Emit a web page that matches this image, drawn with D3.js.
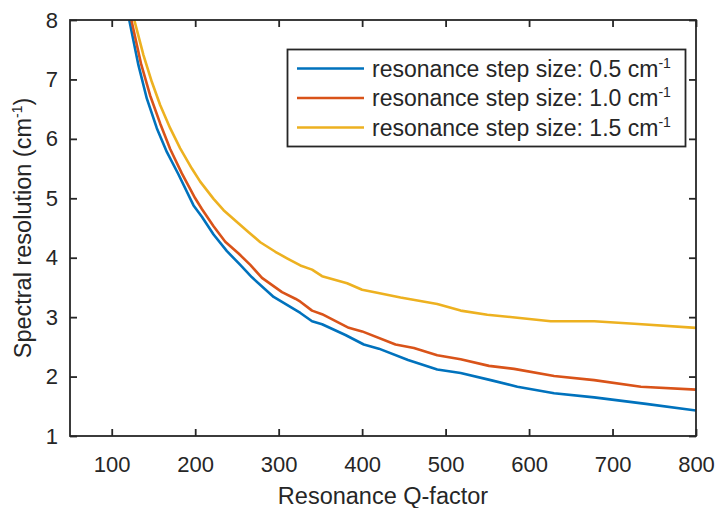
<!DOCTYPE html>
<html>
<head>
<meta charset="utf-8">
<script src="https://cdn.jsdelivr.net/npm/d3@7"></script>
<style>
  html, body { margin: 0; padding: 0; background: #fff; }
  svg { display: block; font-family: "Liberation Sans", Arial, Helvetica, sans-serif; }
</style>
</head>
<body>
<svg id="chart" width="718" height="508"></svg>
<script>
// ---- data ----
const xTicks = [100, 200, 300, 400, 500, 600, 700, 800];
const yTicks = [1, 2, 3, 4, 5, 6, 7, 8];

const seriesNames = [
  "resonance step size: 0.5 cm",
  "resonance step size: 1.0 cm",
  "resonance step size: 1.5 cm"
];
const seriesColors = ["#0072BD", "#D95319", "#EDB120"];

const qStep05 = [121, 132, 142, 154, 166, 180, 198, 208, 222, 238, 254, 268, 294, 326, 340, 352, 380, 402, 420, 455, 490, 518, 554, 586, 630, 678, 740, 800];
const rStep05 = [8.00, 7.24, 6.68, 6.18, 5.78, 5.40, 4.88, 4.69, 4.39, 4.11, 3.88, 3.67, 3.34, 3.07, 2.93, 2.88, 2.70, 2.54, 2.47, 2.28, 2.12, 2.06, 1.94, 1.83, 1.72, 1.65, 1.54, 1.43];

const qStep10 = [123.5, 135, 146, 158, 170, 184, 200, 208, 222, 236, 252, 266, 280, 304, 320, 326, 340, 352, 384, 400, 440, 462, 490, 518, 552, 582, 630, 678, 734, 800];
const rStep10 = [8.00, 7.27, 6.73, 6.26, 5.83, 5.42, 5.00, 4.82, 4.53, 4.27, 4.07, 3.88, 3.66, 3.42, 3.31, 3.26, 3.11, 3.05, 2.82, 2.76, 2.54, 2.48, 2.36, 2.29, 2.18, 2.13, 2.01, 1.94, 1.83, 1.78];

const qStep15 = [127, 138, 148, 158, 170, 182, 196, 206, 222, 234, 250, 264, 278, 296, 310, 326, 340, 352, 382, 400, 418, 446, 490, 518, 550, 586, 626, 678, 726, 800];
const rStep15 = [8.00, 7.41, 6.96, 6.57, 6.18, 5.84, 5.50, 5.28, 4.99, 4.80, 4.60, 4.43, 4.26, 4.10, 3.99, 3.87, 3.80, 3.69, 3.57, 3.46, 3.41, 3.33, 3.22, 3.11, 3.04, 2.99, 2.93, 2.93, 2.89, 2.82];

const series = [
  { name: seriesNames[0], color: seriesColors[0], q: qStep05, r: rStep05 },
  { name: seriesNames[1], color: seriesColors[1], q: qStep10, r: rStep10 },
  { name: seriesNames[2], color: seriesColors[2], q: qStep15, r: rStep15 }
];

// ---- layout ----
const M = { left: 70, top: 20, right: 696, bottom: 436 };
const W = M.right - M.left, H = M.bottom - M.top;
const ink = "#262626";

const svg = d3.select("#chart");
const x = d3.scaleLinear().domain([50, 800]).range([M.left, M.right]);
const y = d3.scaleLinear().domain([1, 8]).range([M.bottom, M.top]);

svg.append("defs").append("clipPath").attr("id", "plotclip")
  .append("rect").attr("x", M.left).attr("y", M.top).attr("width", W).attr("height", H);

// lines
const line = d3.line().x(d => x(d[0])).y(d => y(d[1]));
const gLines = svg.append("g").attr("clip-path", "url(#plotclip)");
series.forEach(s => {
  const pts = s.q.map((q, i) => [q, s.r[i]]);
  gLines.append("path").datum(pts)
    .attr("d", line)
    .attr("fill", "none")
    .attr("stroke", s.color)
    .attr("stroke-width", 2.6)
    .attr("stroke-linejoin", "round");
});

// axes
const tickLen = 7;
const fs = 22;
const gx = svg.append("g").attr("transform", `translate(0,${M.bottom})`)
  .call(d3.axisBottom(x).tickValues(xTicks).tickSize(-tickLen).tickPadding(20).tickFormat(d3.format("d")));
const gy = svg.append("g").attr("transform", `translate(${M.left},0)`)
  .call(d3.axisLeft(y).tickValues(yTicks).tickSize(-tickLen).tickPadding(12).tickFormat(d3.format("d")));
const gxt = svg.append("g").attr("transform", `translate(0,${M.top})`)
  .call(d3.axisTop(x).tickValues(xTicks).tickSize(-tickLen).tickFormat(""));
const gyr = svg.append("g").attr("transform", `translate(${M.right},0)`)
  .call(d3.axisRight(y).tickValues(yTicks).tickSize(-tickLen).tickFormat(""));

[gx, gy, gxt, gyr].forEach(g => {
  g.select(".domain").remove();
  g.selectAll(".tick line").attr("stroke", ink).attr("stroke-width", 1.8);
  g.selectAll(".tick text").attr("fill", ink).style("font-size", fs + "px")
    .style("font-family", '"Liberation Sans", Arial, sans-serif');
});

// frame
svg.append("rect")
  .attr("x", M.left).attr("y", M.top).attr("width", W).attr("height", H)
  .attr("fill", "none").attr("stroke", ink).attr("stroke-width", 1.8);

// axis labels
svg.append("text")
  .attr("x", (M.left + M.right) / 2).attr("y", 504)
  .attr("text-anchor", "middle").attr("fill", ink)
  .style("font-size", "23.5px")
  .text("Resonance Q-factor");

const yl = svg.append("text")
  .attr("transform", `translate(31,${(M.top + M.bottom) / 2}) rotate(-90)`)
  .attr("text-anchor", "middle").attr("fill", ink)
  .style("font-size", "23.5px");
yl.append("tspan").text("Spectral resolution (cm");
yl.append("tspan").attr("dy", -9).style("font-size", "14px").text("-1");
yl.append("tspan").attr("dy", 9).text(")");

// legend
const leg = svg.append("g");
leg.append("rect")
  .attr("x", 287.5).attr("y", 49.5).attr("width", 398).attr("height", 97)
  .attr("fill", "#fff").attr("stroke", ink).attr("stroke-width", 1.8);
const rowY = [68.5, 98, 127.5];
series.forEach((s, i) => {
  leg.append("line")
    .attr("x1", 297).attr("x2", 364).attr("y1", rowY[i]).attr("y2", rowY[i])
    .attr("stroke", s.color).attr("stroke-width", 2.6);
  const t = leg.append("text")
    .attr("x", 372).attr("y", rowY[i] + 8)
    .attr("fill", ink).style("font-size", "23px");
  t.append("tspan").text(s.name);
  t.append("tspan").attr("dy", -9).style("font-size", "14px").text("-1");
});
</script>
</body>
</html>
